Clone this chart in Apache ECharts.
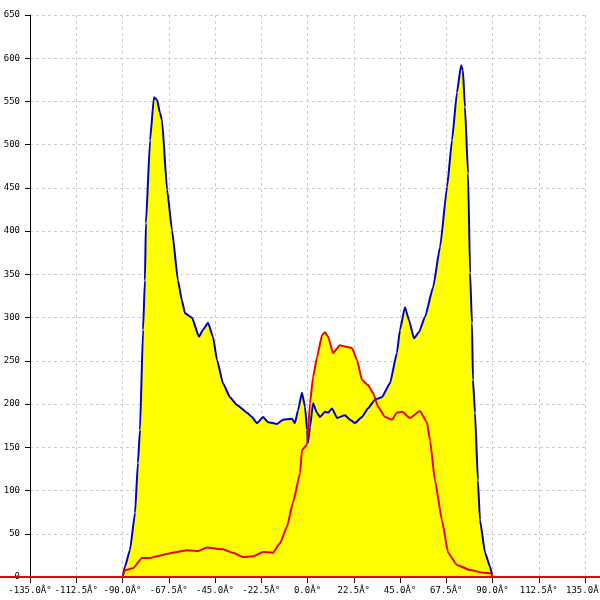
<!DOCTYPE html>
<html>
<head>
<meta charset="utf-8">
<script src="https://cdn.jsdelivr.net/npm/echarts@6/dist/echarts.min.js"></script>
<style>html,body{margin:0;padding:0;background:#fff;}#c{width:600px;height:600px;}</style>
</head>
<body>
<div id="c"></div>
<script>
// Angles (degrees) and values for the blue (yellow-filled) curve
const blueAngles = [-90,-88.8,-86.4,-83.9,-82.5,-81.5,-80.0,-79.1,-78.6,-76.6,-74.7,-73.2,-71.8,-70.8,-68.3,-65.9,-63.0,-61.1,-59.6,-56.2,-52.8,-50.8,-48.4,-46.0,-44.0,-41.1,-37.7,-34.3,-29.4,-27.0,-24.6,-21.6,-19.2,-14.8,-11.9,-7.5,-6.1,-4.6,-2.7,-1.2,-0.2,0.2,1.2,2.7,4.6,6.1,8.5,10.0,11.9,14.4,18.2,20.7,23.1,26.5,29.4,32.8,36.2,40.1,43.5,45.0,47.4,49.4,51.8,54.2,57.2,61.1,64.5,67.9,70.3,72.7,74.7,75.6,76.6,78.1,79.1,80.0,80.5,81.5,82.9,83.9,86.4,88.8,90];
const blueValues = [0,12,31,74,132,170,286,343,409,505,555,552,537,529,448,401,343,320,305,300,278,286,294,278,251,224,208,199,190,185,178,185,179,177,182,183,178,193,213,197,170,155,173,201,190,185,191,190,195,184,187,182,178,185,195,205,208,224,259,286,312,297,276,283,301,335,382,451,505,560,592,586,544,467,352,294,228,190,112,66,28,12,0];
// Angles (degrees) and values for the red curve
const redAngles = [-90,-88.8,-84.9,-80.5,-76.6,-73.2,-67.9,-63.5,-58.6,-53.3,-48.9,-41.1,-36.2,-31.4,-26.5,-21.6,-16.8,-13.4,-10.0,-7.1,-3.6,-2.7,-0.2,1.2,2.7,4.6,7.1,8.5,10.0,12.4,15.8,19.2,21.6,24.1,26.5,29.4,31.9,34.3,37.7,41.1,43.5,46.0,49.9,54.7,58.1,59.6,62.0,65.4,68.4,72.7,79.1,85.4,89.5,90];
const redValues = [0,8,10,22,22,24,27,29,31,30,34,32,28,23,24,29,28,39,58,86,120,147,153,201,231,254,280,283,278,259,268,266,265,251,228,222,213,197,185,182,190,191,184,192,179,158,112,66,28,14,8,5,4,0];
// Red curve is zero outside the measured range (drawn across the whole width)
const redBaseline = [0, 0];
// Axis ticks
const xMin = -135, xMax = 135, xStep = 22.5;
const yMin = 0, yMax = 650, yStep = 50;

const pair = (xs, ys) => xs.map((x, i) => [x, ys[i]]);
const blueData = pair(blueAngles, blueValues);
const redData = pair(redAngles, redValues);

const font = 'DejaVu Sans Mono';
const chart = echarts.init(document.getElementById('c'));
chart.setOption({
  animation: false,
  backgroundColor: '#ffffff',
  grid: [
    { left: 30, right: 15, top: 15, bottom: 23, containLabel: false, outerBoundsMode: 'none' },
    { left: 0, right: 0, top: 15, bottom: 23, containLabel: false, outerBoundsMode: 'none' }
  ],
  xAxis: [{
    type: 'value', min: xMin, max: xMax, interval: xStep, gridIndex: 0,
    axisLine: { onZero: false, lineStyle: { color: '#000', width: 1 } },
    axisTick: { show: true, length: 6, lineStyle: { color: '#000' } },
    axisLabel: { color: '#000', fontFamily: font, fontSize: 9, margin: 9,
      formatter: v => v.toFixed(1) + 'Â°' },
    splitLine: { show: true, lineStyle: { color: '#cccccc', type: [3, 3] } }
  }, {
    type: 'category', gridIndex: 1, show: false, boundaryGap: false, data: ['a', 'b']
  }],
  yAxis: [{
    type: 'value', min: yMin, max: yMax, interval: yStep, gridIndex: 0,
    axisLine: { show: true, onZero: false, lineStyle: { color: '#000', width: 1 } },
    axisTick: { show: true, length: 5, lineStyle: { color: '#000' } },
    axisLabel: { color: '#000', fontFamily: font, fontSize: 9, margin: 10 },
    splitLine: { show: true, lineStyle: { color: '#cccccc', type: [3, 3] } }
  }, {
    type: 'value', gridIndex: 1, show: false, min: yMin, max: yMax
  }],
  series: [
    { type: 'line', data: blueData, symbol: 'none', smooth: 0.15, smoothMonotone: 'x',
      lineStyle: { width: 0 }, areaStyle: { color: '#ffff00', opacity: 1 }, z: 1 },
    { type: 'line', data: redData, symbol: 'none', smooth: 0.15, smoothMonotone: 'x',
      lineStyle: { width: 0 }, areaStyle: { color: '#ffff00', opacity: 1 }, z: 1 },
    { type: 'line', data: blueData, symbol: 'none', smooth: 0.15, smoothMonotone: 'x',
      lineStyle: { width: 2, color: '#0000cc' }, z: 3 },
    { type: 'line', data: redData, symbol: 'none', smooth: 0.15, smoothMonotone: 'x',
      lineStyle: { width: 2, color: '#ee0000' }, z: 4 },
    { type: 'line', xAxisIndex: 1, yAxisIndex: 1, data: redBaseline, symbol: 'none',
      lineStyle: { width: 2, color: '#ee0000' }, z: 4 }
  ]
});
</script>
</body>
</html>
